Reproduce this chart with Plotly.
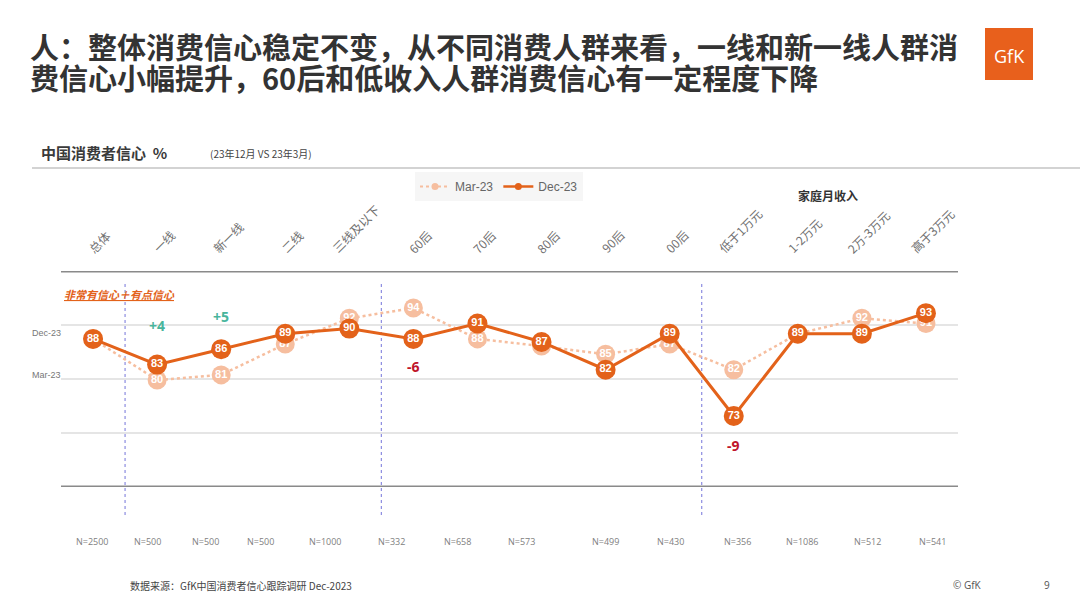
import plotly.graph_objects as go

# ---------------- data ----------------
categories = ["总体", "一线", "新一线", "二线", "三线及以下", "60后", "70后", "80后",
              "90后", "00后", "低于1万元", "1-2万元", "2万-3万元", "高于3万元"]
dec23 = [88, 83, 86, 89, 90, 88, 91, 87.4, 82, 89, 73, 89, 89, 93]
mar23 = [88, 80, 81, 87, 92, 94, 88, 86.6, 85, 87, 82, 89, 92, 91]
sample_n = ["N=2500", "N=500", "N=500", "N=500", "N=1000", "N=332", "N=658", "N=573",
            "N=499", "N=430", "N=356", "N=1086", "N=512", "N=541"]
changes = {1: "+4", 2: "+5", 5: "-6", 10: "-9"}
group_breaks = [0.5, 4.5, 9.5]

# ---------------- styling / layout positions ----------------
W, H = 1080, 607
L, R, T, B = 61, 958, 271, 487
YMIN, YMAX = 59.2, 101.2
DARK = "#E3621A"
LIGHT = "#F6BE9F"
TEAL = "#48B59C"
RED = "#C0142B"
CJK = "Noto Sans CJK SC, Noto Sans, sans-serif"
# horizontal pixel centres of the sample-size row (a table row in the slide)
n_row_px = [92, 147, 205, 260, 325, 391, 457, 521, 605, 670, 737, 802, 867, 932]


def px2x(px):
    return (px - L) / (R - L)


def py2y(py):
    return (B - py) / (B - T)


x_idx = list(range(len(categories)))

fig = go.Figure()

# data traces
fig.add_trace(go.Scatter(
    x=x_idx, y=mar23, mode="lines+markers+text", showlegend=False,
    line=dict(color=LIGHT, width=2.5, dash="dot"),
    marker=dict(size=19, color=LIGHT),
    text=[f"{v:.0f}" for v in mar23], textposition="middle center",
    textfont=dict(color="white", size=11, family="Liberation Sans", weight="bold"),
    hoverinfo="skip", cliponaxis=False))
fig.add_trace(go.Scatter(
    x=x_idx, y=dec23, mode="lines+markers+text", showlegend=False,
    line=dict(color=DARK, width=3),
    marker=dict(size=20, color=DARK),
    text=[f"{v:.0f}" for v in dec23], textposition="middle center",
    textfont=dict(color="white", size=11, family="Liberation Sans", weight="bold"),
    hoverinfo="skip", cliponaxis=False))

# legend entries
fig.add_trace(go.Scatter(x=[None], y=[None], mode="lines+markers", name="Mar-23",
                         line=dict(color=LIGHT, width=2, dash="dot"),
                         marker=dict(size=7, color=LIGHT)))
fig.add_trace(go.Scatter(x=[None], y=[None], mode="lines+markers", name="Dec-23",
                         line=dict(color=DARK, width=2.5),
                         marker=dict(size=7, color=DARK)))

shapes = []
# horizontal guide lines
for val, col, w in [(YMAX, "#8a8a8a", 3), (90.7, "#dcdcdc", 1.5), (80.2, "#dcdcdc", 1.5),
                    (69.7, "#dcdcdc", 1.5), (YMIN, "#8a8a8a", 3)]:
    shapes.append(dict(type="line", xref="paper", yref="y", x0=0, x1=1, y0=val, y1=val,
                       line=dict(color=col, width=w), layer="below"))
# group separators
for gb in group_breaks:
    shapes.append(dict(type="line", xref="x", yref="paper", x0=gb, x1=gb,
                       y0=py2y(515), y1=py2y(281),
                       line=dict(color="#8c8ce0", width=1.2, dash="dot"), layer="below"))
# subtitle rule
shapes.append(dict(type="line", xref="paper", yref="paper", x0=px2x(32), x1=px2x(1080),
                   y0=py2y(168), y1=py2y(168), line=dict(color="#c4c4c4", width=1.5)))
# logo box
shapes.append(dict(type="rect", xref="paper", yref="paper", x0=px2x(985), x1=px2x(1033),
                   y0=py2y(80), y1=py2y(28), fillcolor="#E8601C", line=dict(width=0)))

ann = []
# title
ann.append(dict(text="人：整体消费信心稳定不变，从不同消费人群来看，一线和新一线人群消",
                xref="paper", yref="paper", x=px2x(28), y=py2y(46), xanchor="left",
                yanchor="middle", showarrow=False,
                font=dict(size=29, color="#333333", family=CJK, weight="bold")))
ann.append(dict(text="费信心小幅提升，60后和低收入人群消费信心有一定程度下降",
                xref="paper", yref="paper", x=px2x(28), y=py2y(77), xanchor="left",
                yanchor="middle", showarrow=False,
                font=dict(size=29, color="#333333", family=CJK, weight="bold")))
# logo text
ann.append(dict(text="GfK", xref="paper", yref="paper", x=px2x(1009), y=py2y(56),
                xanchor="center", yanchor="middle",
                showarrow=False, font=dict(size=18, color="white", family="Open Sans")))
# subtitle
ann.append(dict(text="中国消费者信心  %", xref="paper", yref="paper", x=px2x(39),
                y=py2y(152), xanchor="left", yanchor="middle", showarrow=False,
                font=dict(size=15, color="#3a3a3a", family=CJK, weight="bold")))
ann.append(dict(text="(23年12月 VS 23年3月)", xref="paper", yref="paper", x=px2x(208),
                y=py2y(153), xanchor="left", yanchor="middle", showarrow=False,
                font=dict(size=10, color="#444444", family=CJK)))
# income header
ann.append(dict(text="家庭月收入", xref="paper", yref="paper", x=px2x(828), y=py2y(196),
                xanchor="center", yanchor="middle", showarrow=False,
                font=dict(size=12, color="#333333", family=CJK, weight="bold")))
# metric label
ann.append(dict(text="<i><u>非常有信心＋有点信心</u></i>", xref="paper", yref="paper",
                x=px2x(62), y=py2y(294), xanchor="left", yanchor="middle", showarrow=False,
                font=dict(size=11, color=DARK, family=CJK, weight="bold")))
# left side labels
ann.append(dict(text="Dec-23", xref="paper", yref="paper", x=px2x(63), y=py2y(333),
                xanchor="right", yanchor="middle", showarrow=False,
                font=dict(size=9, color="#777777", family="Liberation Sans")))
ann.append(dict(text="Mar-23", xref="paper", yref="paper", x=px2x(63), y=py2y(375),
                xanchor="right", yanchor="middle", showarrow=False,
                font=dict(size=9, color="#777777", family="Liberation Sans")))
# category labels (rotated)
for i, c in enumerate(categories):
    ann.append(dict(text=c, xref="x", yref="paper", x=i + 0.1, y=py2y(259),
                    xanchor="center", yanchor="bottom", textangle=-45, showarrow=False,
                    font=dict(size=12, color="#707070", family=CJK)))
# sample sizes
for n, px in zip(sample_n, n_row_px):
    ann.append(dict(text=n, xref="paper", yref="paper", x=px2x(px), y=py2y(541),
                    xanchor="center", yanchor="middle", showarrow=False,
                    font=dict(size=9, color="#808080", family="Open Sans")))
# change labels
chg_pos = {1: 325, 2: 316, 5: 366, 10: 445}
for i, t in changes.items():
    col = TEAL if t.startswith("+") else RED
    ann.append(dict(text=t, xref="x", yref="paper", x=i, y=py2y(chg_pos[i]),
                    xanchor="center", yanchor="middle", showarrow=False,
                    font=dict(size=14, color=col, family="Open Sans", weight="bold")))
# footer
ann.append(dict(text="数据来源：GfK中国消费者信心跟踪调研 Dec-2023", xref="paper", yref="paper",
                x=px2x(128), y=py2y(585), xanchor="left", yanchor="middle", showarrow=False,
                font=dict(size=10, color="#444444", family=CJK)))
ann.append(dict(text="© GfK", xref="paper", yref="paper", x=px2x(984), y=py2y(585),
                xanchor="right", yanchor="middle", showarrow=False,
                font=dict(size=10, color="#555555", family="Open Sans")))
ann.append(dict(text="9", xref="paper", yref="paper", x=px2x(1047), y=py2y(585),
                xanchor="center", yanchor="middle", showarrow=False,
                font=dict(size=10, color="#555555", family="Open Sans")))

fig.update_layout(
    width=W, height=H,
    margin=dict(l=L, r=W - R, t=T, b=H - B, pad=0),
    paper_bgcolor="white", plot_bgcolor="white",
    xaxis=dict(range=[-0.5, 13.5], visible=False, fixedrange=True),
    yaxis=dict(range=[YMIN, YMAX], visible=False, fixedrange=True),
    showlegend=True,
    legend=dict(orientation="h", x=px2x(415), y=py2y(172), xanchor="left", yanchor="top",
                bgcolor="#f6f6f6", font=dict(size=12, color="#666666", family="Liberation Sans"),
                itemwidth=30, tracegroupgap=0),
    shapes=shapes, annotations=ann,
    font=dict(family=CJK),
    hovermode=False,
)

fig.write_html("out.html", config={"displayModeBar": False},
               post_script="document.body.style.margin='0';")
